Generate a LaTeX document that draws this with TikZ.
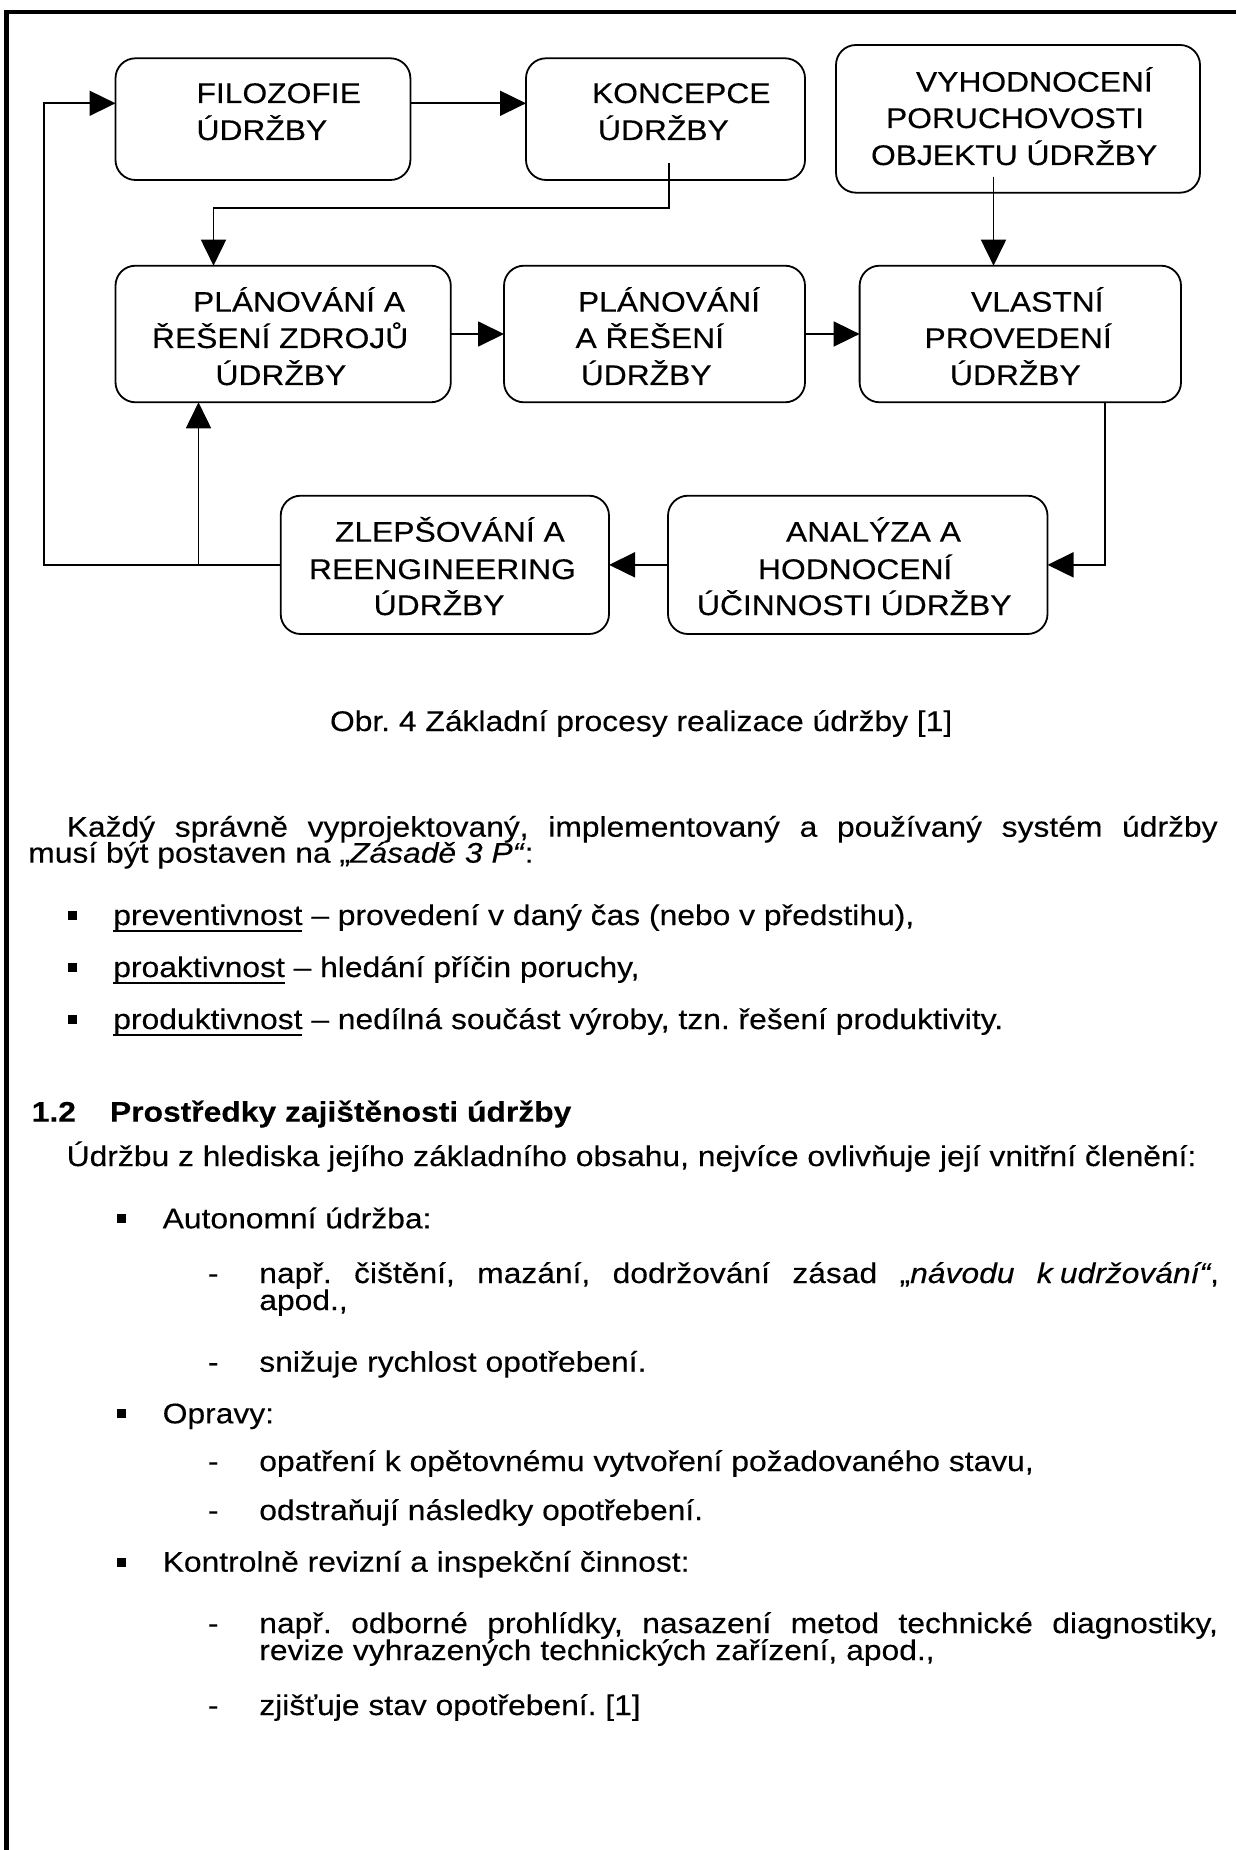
\documentclass[tikz,border=0pt]{standalone}
\usepackage{fontspec}
\setmainfont{Liberation Sans}[FakeStretch=1.12, FakeBold=0.25]
\usetikzlibrary{arrows.meta,fit}
\newcommand\bodyfont{\fontsize{14.2pt}{16pt}\selectfont\frenchspacing}
\newsavebox\ulbox
\newcommand\uln[1]{\sbox\ulbox{#1}\rlap{\rule[-3.6pt]{\wd\ulbox}{1.1pt}}\usebox\ulbox}
\begin{document}
\begin{tikzpicture}[x=0.5pt, y=-0.5pt,
  every node/.style={inner sep=0pt, outer sep=0pt, font=\bodyfont},
  box/.style={draw, rounded corners=10pt, line width=0.9pt},
  lbl/.style={anchor=base west},
  lble/.style={anchor=base east},
  arr/.style={line width=0.9pt, -{Triangle[length=13pt,width=12.5pt]}},
  bul/.style={fill=black}]
\useasboundingbox (0,0) rectangle (1236,1850);

% page frame (top and left rules)
\draw[line width=2.25pt] (6.5,1850) -- (6.5,12) -- (1236,12);

% ---------- process boxes ----------
\node[box, fit={(115.5,58.3) (410.4,180)}] (fil) {};
\node[box, fit={(526,58.3) (805,180)}] (konc) {};
\node[box, fit={(836,45) (1200,192.7)}] (vyh) {};
\node[box, fit={(115.5,265.7) (450.8,402.3)}] (zdr) {};
\node[box, fit={(504,265.7) (805,402.3)}] (plan) {};
\node[box, fit={(859.6,265.7) (1181,402.3)}] (vlast) {};
\node[box, fit={(280.7,495.7) (609,634)}] (zlep) {};
\node[box, fit={(668,495.7) (1047.5,634)}] (anal) {};

% box texts
\node[lbl] (fil1) at (196.5,103) {FILOZOFIE};
\node[lbl] (fil2) at (196.5,140) {ÚDRŽBY};
\node[lbl] (konc1) at (592,103) {KONCEPCE};
\node[lbl] (konc2) at (598,140) {ÚDRŽBY};
\node[lbl] (vyh1) at (916,91.7) {VYHODNOCENÍ};
\node[lbl] (vyh2) at (886,128) {PORUCHOVOSTI};
\node[lbl] (vyh3) at (871,165) {OBJEKTU ÚDRŽBY};
\node[lbl] (zdr1) at (193,311.7) {PLÁNOVÁNÍ A};
\node[lbl] (zdr2) at (152,348) {ŘEŠENÍ ZDROJŮ};
\node[lbl] (zdr3) at (215.5,385) {ÚDRŽBY};
\node[lble] (plan1) at (760,311.7) {PLÁNOVÁNÍ};
\node[lble] (plan2) at (724,348) {A ŘEŠENÍ};
\node[lble] (plan3) at (711.6,385) {ÚDRŽBY};
\node[lbl] (vlast1) at (971,311.7) {VLASTNÍ};
\node[lbl] (vlast2) at (924.5,348) {PROVEDENÍ};
\node[lbl] (vlast3) at (950,385) {ÚDRŽBY};
\node[lbl] (zlep1) at (335,541.7) {ZLEPŠOVÁNÍ A};
\node[lbl] (zlep2) at (309,579) {REENGINEERING};
\node[lbl] (zlep3) at (373.7,615) {ÚDRŽBY};
\node[lbl] (anal1) at (786,541.7) {ANALÝZA A};
\node[lbl] (anal2) at (758,579) {HODNOCENÍ};
\node[lbl] (anal3) at (697,615) {ÚČINNOSTI ÚDRŽBY};

% ---------- connectors ----------
\coordinate (lp) at (44.3,103.3);
\coordinate (ks) at (669,163);
\coordinate (kb) at (213.5,208.3);
\coordinate (vs) at (993.5,176.7);
\draw[arr] (fil.east |- lp) -- (konc.west |- lp);
\draw[arr] (ks) |- (kb) -- (zdr.north -| kb);
\draw[arr] (vs) -- (vlast.north -| vs);
\draw[arr] (zdr.east) -- (plan.west);
\draw[arr] (plan.east) -- (vlast.west);
\draw[arr] (vlast.south -| 1105,0) |- (anal.east);
\draw[arr] (anal.west) -- (zlep.east);
\draw[arr] (zlep.west) -| (lp) -- (fil.west |- lp);
\draw[arr] (zlep.west -| 198.5,0) -- (zdr.south -| 198.5,0);

% ---------- body text ----------
\node[lbl] (cap) at (330,731) {Obr. 4 Základní procesy realizace údržby [1]};
\node[lbl] (p1) at (66.7,836.7) {\makebox[575.5pt][s]{Každý správně vyprojektovaný, implementovaný a používaný systém údržby}};
\node[lbl] (p2) at (28.3,862.7) {musí být postaven na „\textit{Zásadě 3 P“}:};

\fill[bul] (68.3,911) rectangle (77.3,920);
\node[lbl] (b1) at (113.3,925) {\uln{preventivnost} – provedení v daný čas (nebo v předstihu),};
\fill[bul] (68.3,963) rectangle (77.3,972);
\node[lbl] (b2) at (113.3,977) {\uln{proaktivnost} – hledání příčin poruchy,};
\fill[bul] (68.3,1015) rectangle (77.3,1024);
\node[lbl] (b3) at (113.3,1029) {\uln{produktivnost} – nedílná součást výroby, tzn. řešení produktivity.};

\node[lbl] (h1) at (31.7,1121.7) {\textbf{1.2}};
\node[lbl] (h2) at (110,1121.7) {\textbf{Prostředky zajištěnosti údržby}};
\node[lbl] (q1) at (66.7,1166) {Údržbu z hlediska jejího základního obsahu, nejvíce ovlivňuje její vnitřní členění:};

\fill[bul] (116.7,1214.3) rectangle (125.7,1223.3);
\node[lbl] (a0) at (162.7,1228.3) {Autonomní údržba:};
\node[lbl] (a1d) at (208,1283) {-};
\node[lbl] (a1) at (259.3,1283) {\makebox[479.85pt][s]{např. čištění, mazání, dodržování zásad „\textit{návodu} \textit{k\kern.25em udržování“},}};
\node[lbl] (a1b) at (259.3,1310) {apod.,};
\node[lbl] (a2d) at (208,1371.7) {-};
\node[lbl] (a2) at (259.3,1371.7) {snižuje rychlost opotřebení.};

\fill[bul] (116.7,1409.3) rectangle (125.7,1418.3);
\node[lbl] (o0) at (162.7,1423.3) {Opravy:};
\node[lbl] (o1d) at (208,1471) {-};
\node[lbl] (o1) at (259.3,1471) {opatření k opětovnému vytvoření požadovaného stavu,};
\node[lbl] (o2d) at (208,1520) {-};
\node[lbl] (o2) at (259.3,1520) {odstraňují následky opotřebení.};

\fill[bul] (116.7,1557.7) rectangle (125.7,1566.7);
\node[lbl] (k0) at (162.7,1571.7) {Kontrolně revizní a inspekční činnost:};
\node[lbl] (k1d) at (208,1633) {-};
\node[lbl] (k1) at (259.3,1633) {\makebox[479.35pt][s]{např. odborné prohlídky, nasazení metod technické diagnostiky,}};
\node[lbl] (k1b) at (259.3,1660) {revize vyhrazených technických zařízení, apod.,};
\node[lbl] (k2d) at (208,1715) {-};
\node[lbl] (k2) at (259.3,1715) {zjišťuje stav opotřebení. [1]};
\end{tikzpicture}
\end{document}
